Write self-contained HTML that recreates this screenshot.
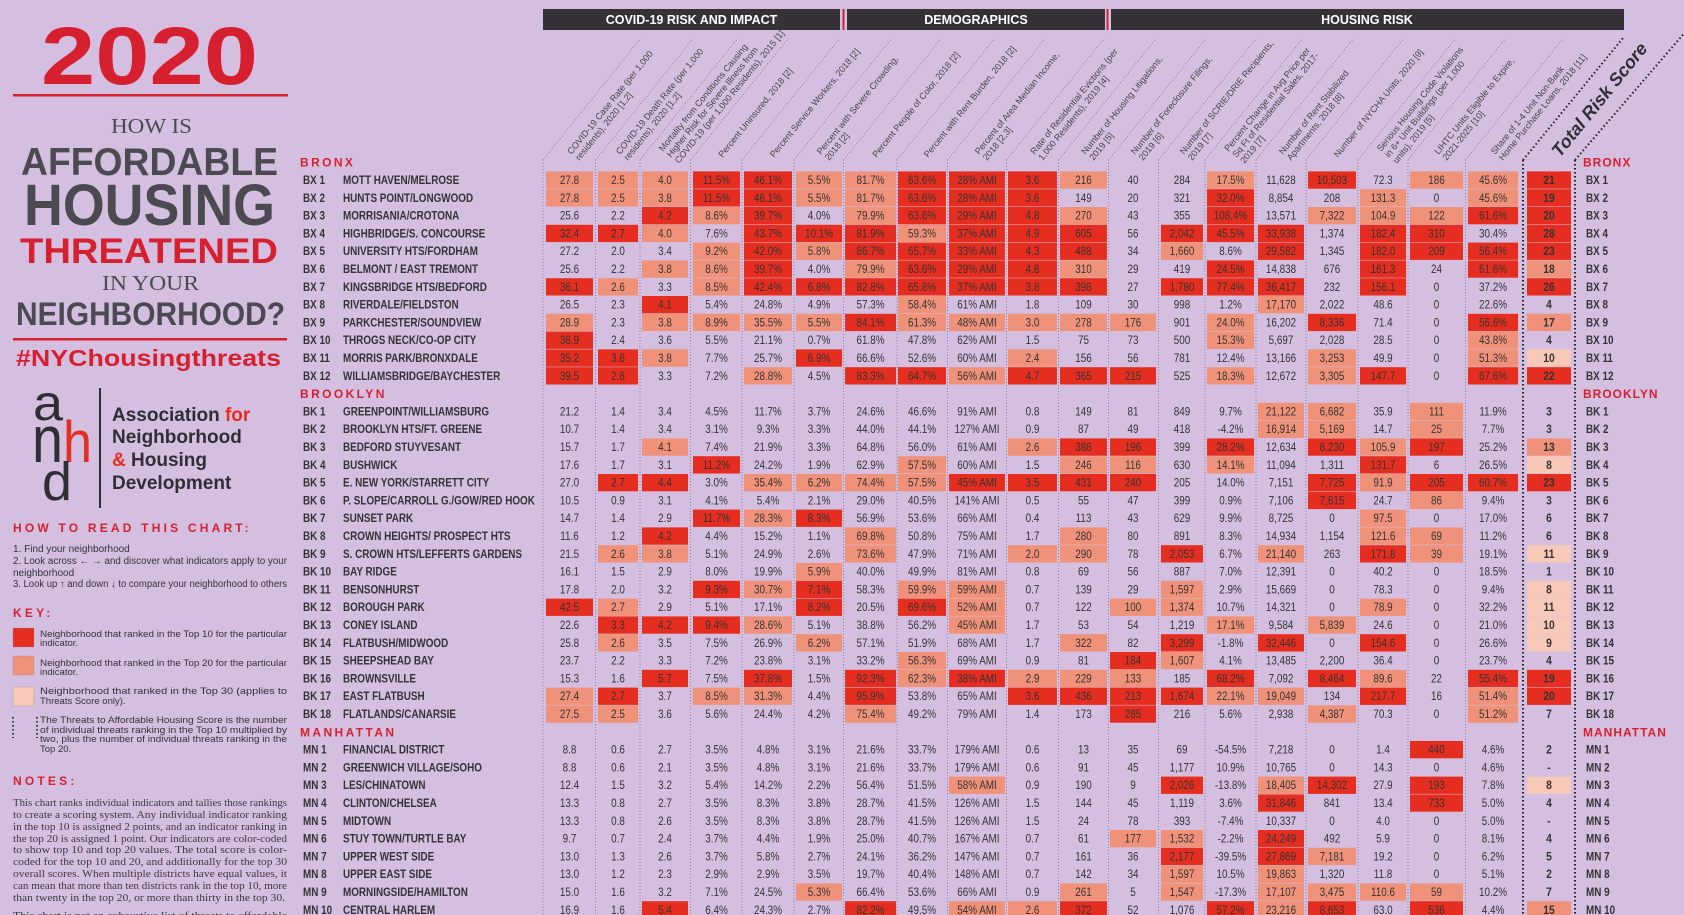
<!DOCTYPE html>
<html><head><meta charset="utf-8"><style>
html,body{margin:0;padding:0;background:#d5bfe0;}
#wrap{position:relative;width:1684px;height:915px;overflow:hidden;background:#d5bfe0;font-family:"Liberation Sans",sans-serif;}
svg{position:absolute;left:0;top:0;}
</style></head><body>
<div id="wrap">
<svg id="chart" width="1684" height="915" viewBox="0 0 1684 915">
<g id="left">
  <text x="41" y="84" font-size="82" font-weight="bold" fill="#d7202f" textLength="217" lengthAdjust="spacingAndGlyphs">2020</text>
  <rect x="13" y="94" width="275" height="2.5" fill="#d7202f"/>
  <text x="111" y="133" font-family="Liberation Serif,serif" font-size="21" fill="#4b4a50" textLength="81" lengthAdjust="spacingAndGlyphs">HOW IS</text>
  <text x="21" y="175" font-size="39" font-weight="bold" fill="#4b4a50" textLength="257" lengthAdjust="spacingAndGlyphs">AFFORDABLE</text>
  <text x="24" y="225" font-size="58" font-weight="bold" fill="#4b4a50" textLength="251" lengthAdjust="spacingAndGlyphs">HOUSING</text>
  <text x="20" y="263" font-size="35" font-weight="bold" fill="#d7202f" textLength="258" lengthAdjust="spacingAndGlyphs">THREATENED</text>
  <text x="102" y="290" font-family="Liberation Serif,serif" font-size="21" fill="#4b4a50" textLength="97" lengthAdjust="spacingAndGlyphs">IN YOUR</text>
  <text x="16" y="325" font-size="32" font-weight="bold" fill="#4b4a50" textLength="269" lengthAdjust="spacingAndGlyphs">NEIGHBORHOOD?</text>
  <rect x="13" y="338" width="274" height="2.5" fill="#d7202f"/>
  <text x="16" y="366" font-size="23" font-weight="bold" fill="#d7202f" textLength="265" lengthAdjust="spacingAndGlyphs">#NYChousingthreats</text>
  <g>
    <text x="33" y="420" font-size="50" fill="#2f2e33" textLength="30" lengthAdjust="spacingAndGlyphs">a</text>
    <text x="32" y="462" font-size="66" fill="#2f2e33" textLength="31" lengthAdjust="spacingAndGlyphs">n</text>
    <text x="63" y="462" font-size="58" fill="#e52e20" textLength="29" lengthAdjust="spacingAndGlyphs">h</text>
    <text x="42" y="500" font-size="54" fill="#2f2e33" textLength="30" lengthAdjust="spacingAndGlyphs">d</text>
    <rect x="99" y="388" width="2" height="120" fill="#2f2e33"/>
    <text x="112" y="421" font-size="19" font-weight="bold" fill="#2f2e33">Association <tspan fill="#e52e20">for</tspan></text>
    <text x="112" y="443" font-size="19" font-weight="bold" fill="#2f2e33">Neighborhood</text>
    <text x="112" y="466" font-size="19" font-weight="bold" fill="#2f2e33"><tspan fill="#e52e20">&amp;</tspan> Housing</text>
    <text x="112" y="489" font-size="19" font-weight="bold" fill="#2f2e33">Development</text>
  </g>
  <text x="13" y="532" font-size="12" font-weight="bold" fill="#d7202f" letter-spacing="3.2">HOW TO READ THIS CHART:</text>
  <g font-size="10" fill="#333">
    <text x="13" y="552">1. Find your neighborhood</text>
    <text x="13" y="564" textLength="274" lengthAdjust="spacingAndGlyphs">2. Look across ← → and discover what indicators apply to your</text>
    <text x="13" y="576">neighborhood</text>
    <text x="13" y="587" textLength="274" lengthAdjust="spacingAndGlyphs">3. Look up ↑ and down ↓ to compare your neighborhood to others</text>
  </g>
  <text x="13" y="617" font-size="12" font-weight="bold" fill="#d7202f" letter-spacing="3.2">KEY:</text>
  <g>
    <rect x="13" y="628" width="21" height="19" fill="#e52e20" stroke="#888" stroke-dasharray="1,1.5" stroke-width="0.8"/>
    <rect x="13" y="656" width="21" height="19" fill="#f0927a" stroke="#888" stroke-dasharray="1,1.5" stroke-width="0.8"/>
    <rect x="13" y="687" width="21" height="19" fill="#f8c9b8" stroke="#888" stroke-dasharray="1,1.5" stroke-width="0.8"/>
    <line x1="13" y1="717" x2="13" y2="738" stroke="#333" stroke-width="2" stroke-dasharray="1.5,2.5"/>
    <line x1="37" y1="717" x2="37" y2="738" stroke="#333" stroke-width="2" stroke-dasharray="1.5,2.5"/>
    <g font-size="9.5" fill="#333">
      <text x="40" y="637" textLength="247" lengthAdjust="spacingAndGlyphs">Neighborhood that ranked in the Top 10 for the particular</text>
      <text x="40" y="646">indicator.</text>
      <text x="40" y="666" textLength="247" lengthAdjust="spacingAndGlyphs">Neighborhood that ranked in the Top 20 for the particular</text>
      <text x="40" y="675">indicator.</text>
      <text x="40" y="694" textLength="247" lengthAdjust="spacingAndGlyphs">Neighborhood that ranked in the Top 30 (applies to</text>
      <text x="40" y="704">Threats Score only).</text>
      <text x="40" y="723" textLength="247" lengthAdjust="spacingAndGlyphs">The Threats to Affordable Housing Score is the number</text>
      <text x="40" y="733" textLength="247" lengthAdjust="spacingAndGlyphs">of individual threats ranking in the Top 10 multiplied by</text>
      <text x="40" y="742" textLength="247" lengthAdjust="spacingAndGlyphs">two, plus the number of individual threats ranking in the</text>
      <text x="40" y="752">Top 20.</text>
    </g>
  </g>
  <text x="13" y="785" font-size="12" font-weight="bold" fill="#d7202f" letter-spacing="3.2">NOTES:</text>
  <g font-family="Liberation Serif,serif" font-size="11" fill="#3a3a3a">
    <text x="13" y="806" textLength="274" lengthAdjust="spacingAndGlyphs">This chart ranks individual indicators and tallies those rankings</text>
    <text x="13" y="818" textLength="274" lengthAdjust="spacingAndGlyphs">to create a scoring system. Any individual indicator ranking</text>
    <text x="13" y="830" textLength="274" lengthAdjust="spacingAndGlyphs">in the top 10 is assigned 2 points, and an indicator ranking in</text>
    <text x="13" y="842" textLength="274" lengthAdjust="spacingAndGlyphs">the top 20 is assigned 1 point. Our indicators are color-coded</text>
    <text x="13" y="853" textLength="274" lengthAdjust="spacingAndGlyphs">to show top 10 and top 20 values. The total score is color-</text>
    <text x="13" y="865" textLength="274" lengthAdjust="spacingAndGlyphs">coded for the top 10 and 20, and additionally for the top 30</text>
    <text x="13" y="877" textLength="274" lengthAdjust="spacingAndGlyphs">overall scores. When multiple districts have equal values, it</text>
    <text x="13" y="889" textLength="274" lengthAdjust="spacingAndGlyphs">can mean that more than ten districts rank in the top 10, more</text>
    <text x="13" y="901" textLength="272" lengthAdjust="spacingAndGlyphs">than twenty in the top 20, or more than thirty in the top 30.</text>
    <text x="13" y="919" textLength="274" lengthAdjust="spacingAndGlyphs">This chart is not an exhaustive list of threats to affordable</text>
  </g>
</g>
<g id="hdr">
  <rect x="543" y="9" width="297" height="21" fill="#353137"/>
  <text x="691.5" y="24" text-anchor="middle" font-size="12.5" font-weight="bold" fill="#fff">COVID-19 RISK AND IMPACT</text>
  <rect x="842.5" y="9" width="2" height="21" fill="#d7202f"/>
  <rect x="847" y="9" width="258" height="21" fill="#353137"/>
  <text x="976" y="24" text-anchor="middle" font-size="12.5" font-weight="bold" fill="#fff">DEMOGRAPHICS</text>
  <rect x="1106.5" y="9" width="2" height="21" fill="#d7202f"/>
  <rect x="1111" y="9" width="513" height="21" fill="#353137"/>
  <text x="1367" y="24" text-anchor="middle" font-size="12.5" font-weight="bold" fill="#fff">HOUSING RISK</text>
</g>
<g id="grid"></g>
<g id="cells"></g>
</svg>
</div>
<script>
// ---- data ----
const sectionNames = ["BRONX","BROOKLYN","MANHATTAN"];
const bxCodes = ["BX 1","BX 2","BX 3","BX 4","BX 5","BX 6","BX 7","BX 8","BX 9","BX 10","BX 11","BX 12"];
const bxNames = ["MOTT HAVEN/MELROSE","HUNTS POINT/LONGWOOD","MORRISANIA/CROTONA","HIGHBRIDGE/S. CONCOURSE","UNIVERSITY HTS/FORDHAM","BELMONT / EAST TREMONT","KINGSBRIDGE HTS/BEDFORD","RIVERDALE/FIELDSTON","PARKCHESTER/SOUNDVIEW","THROGS NECK/CO-OP CITY","MORRIS PARK/BRONXDALE","WILLIAMSBRIDGE/BAYCHESTER"];
const bxValues = [
"27.8s|2.5s|4.0s|11.5%r|46.1%r|5.5%s|81.7%s|63.6%r|28% AMIr|3.6r|216s|40|284|17.5%s|11,628|10,503r|72.3|186s|45.6%s",
"27.8s|2.5s|3.8s|11.5%r|46.1%r|5.5%s|81.7%s|63.6%r|28% AMIr|3.6r|149|20|321|32.0%r|8,854|208|131.3s|0|45.6%s",
"25.6|2.2|4.2r|8.6%s|39.7%r|4.0%|79.9%s|63.6%r|29% AMIr|4.8r|270s|43|355|108.4%r|13,571|7,322s|104.9s|122s|61.6%r",
"32.4r|2.7r|4.0s|7.6%|43.7%r|10.1%r|81.9%r|59.3%s|37% AMIr|4.9r|605r|56|2,042r|45.5%r|33,938r|1,374|182.4r|310r|30.4%",
"27.2|2.0|3.4|9.2%s|42.0%r|5.8%s|86.7%r|65.7%r|33% AMIr|4.3r|488r|34|1,660s|8.6%|29,582r|1,345|182.0r|209r|56.4%r",
"25.6|2.2|3.8s|8.6%s|39.7%r|4.0%|79.9%s|63.6%r|29% AMIr|4.8r|310s|29|419|24.5%r|14,838|676|161.3r|24|61.6%r",
"36.1r|2.6s|3.3|8.5%s|42.4%r|6.8%r|82.8%r|65.8%r|37% AMIr|3.8r|398r|27|1,780r|77.4%r|36,417r|232|156.1r|0|37.2%",
"26.5|2.3|4.1r|5.4%|24.8%|4.9%|57.3%|58.4%s|61% AMI|1.8|109|30|998|1.2%|17,170s|2,022|48.6|0|22.6%",
"28.9s|2.3|3.8s|8.9%s|35.5%s|5.5%s|84.1%r|61.3%s|48% AMIs|3.0s|278s|176s|901|24.0%s|16,202|8,336r|71.4|0|56.6%r",
"36.9r|2.4|3.6|5.5%|21.1%|0.7%|61.8%|47.8%|62% AMI|1.5|75|73|500|15.3%s|5,697|2,028|28.5|0|43.8%s",
"35.2r|3.6r|3.8s|7.7%|25.7%|6.9%r|66.6%|52.6%|60% AMI|2.4s|156|56|781|12.4%|13,166|3,253s|49.9|0|51.3%s",
"39.5r|2.8r|3.3|7.2%|28.8%s|4.5%|83.3%r|64.7%r|56% AMIs|4.7r|365r|215r|525|18.3%s|12,672|3,305s|147.7r|0|67.6%r"];
const bxScores = ["21r","19r","20r","28r","23r","18s","26r","4","17s","4","10p","22r"];
const bkCodes = ["BK 1","BK 2","BK 3","BK 4","BK 5","BK 6","BK 7","BK 8","BK 9","BK 10","BK 11","BK 12","BK 13","BK 14","BK 15","BK 16","BK 17","BK 18"];
const bkNames = ["GREENPOINT/WILLIAMSBURG","BROOKLYN HTS/FT. GREENE","BEDFORD STUYVESANT","BUSHWICK","E. NEW YORK/STARRETT CITY","P. SLOPE/CARROLL G./GOW/RED HOOK","SUNSET PARK","CROWN HEIGHTS/ PROSPECT HTS","S. CROWN HTS/LEFFERTS GARDENS","BAY RIDGE","BENSONHURST","BOROUGH PARK","CONEY ISLAND","FLATBUSH/MIDWOOD","SHEEPSHEAD BAY","BROWNSVILLE","EAST FLATBUSH","FLATLANDS/CANARSIE"];
const bkValues = [
"21.2|1.4|3.4|4.5%|11.7%|3.7%|24.6%|46.6%|91% AMI|0.8|149|81|849|9.7%|21,122s|6,682s|35.9|111s|11.9%",
"10.7|1.4|3.4|3.1%|9.3%|3.3%|44.0%|44.1%|127% AMI|0.9|87|49|418|-4.2%|16,914s|5,169s|14.7|25s|7.7%",
"15.7|1.7|4.1s|7.4%|21.9%|3.3%|64.8%|56.0%|61% AMI|2.6s|388r|196r|399|28.2%r|12,634|8,230r|105.9s|197r|25.2%",
"17.6|1.7|3.1|11.2%r|24.2%|1.9%|62.9%|57.5%s|60% AMI|1.5|246s|116s|630|14.1%s|11,094|1,311|131.7r|6|26.5%",
"27.0|2.7r|4.4r|3.0%|35.4%s|6.2%s|74.4%s|57.5%s|45% AMIr|3.5r|431r|240r|205|14.0%|7,151|7,725r|91.9s|205r|60.7%r",
"10.5|0.9|3.1|4.1%|5.4%|2.1%|29.0%|40.5%|141% AMI|0.5|55|47|399|0.9%|7,106|7,615r|24.7|86s|9.4%",
"14.7|1.4|2.9|11.7%r|28.3%s|8.3%r|56.9%|53.6%|66% AMI|0.4|113|43|629|9.9%|8,725|0|97.5s|0|17.0%",
"11.6|1.2|4.2r|4.4%|15.2%|1.1%|69.8%s|50.8%|75% AMI|1.7|280s|80|891|8.3%|14,934|1,154|121.6s|69s|11.2%",
"21.5|2.6s|3.8s|5.1%|24.9%|2.6%|73.6%s|47.9%|71% AMI|2.0s|290s|78|2,053r|6.7%|21,140s|263|171.8r|39s|19.1%",
"16.1|1.5|2.9|8.0%|19.9%|5.9%s|40.0%|49.9%|81% AMI|0.8|69|56|887|7.0%|12,391|0|40.2|0|18.5%",
"17.8|2.0|3.2|9.3%r|30.7%s|7.1%r|58.3%|59.9%s|59% AMIs|0.7|139|29|1,597s|2.9%|15,669|0|78.3|0|9.4%",
"42.5r|2.7s|2.9|5.1%|17.1%|8.2%r|20.5%|69.6%r|52% AMIs|0.7|122|100s|1,374s|10.7%|14,321|0|78.9s|0|32.2%",
"22.6|3.3r|4.2r|9.4%r|28.6%s|5.1%|38.8%|56.2%|45% AMIs|1.7|53|54|1,219|17.1%s|9,584|5,839s|24.6|0|21.0%",
"25.8|2.6s|3.5|7.5%|26.9%|6.2%s|57.1%|51.9%|68% AMI|1.7|322s|82|3,299r|-1.8%|32,446r|0|154.6r|0|26.6%",
"23.7|2.2|3.3|7.2%|23.8%|3.1%|33.2%|56.3%s|69% AMI|0.9|81|184r|1,607s|4.1%|13,485|2,200|36.4|0|23.7%",
"15.3|1.6|5.7r|7.5%|37.8%r|1.5%|92.3%r|62.3%s|38% AMIr|2.9s|229s|133s|185|68.2%r|7,092|8,464r|89.6s|22|55.4%r",
"27.4s|2.7r|3.7|8.5%s|31.3%s|4.4%|95.9%r|53.8%|65% AMI|3.6r|436r|213r|1,674r|22.1%s|19,049s|134|217.7r|16|51.4%s",
"27.5s|2.5s|3.6|5.6%|24.4%|4.2%|75.4%s|49.2%|79% AMI|1.4|173|285r|216|5.6%|2,938|4,387s|70.3|0|51.2%s"];
const bkScores = ["3","3","13s","8p","23r","3","6","6","11p","1","8p","11p","10p","9p","4","19r","20r","7"];
const mnCodes = ["MN 1","MN 2","MN 3","MN 4","MN 5","MN 6","MN 7","MN 8","MN 9","MN 10"];
const mnNames = ["FINANCIAL DISTRICT","GREENWICH VILLAGE/SOHO","LES/CHINATOWN","CLINTON/CHELSEA","MIDTOWN","STUY TOWN/TURTLE BAY","UPPER WEST SIDE","UPPER EAST SIDE","MORNINGSIDE/HAMILTON","CENTRAL HARLEM"];
const mnValues = [
"8.8|0.6|2.7|3.5%|4.8%|3.1%|21.6%|33.7%|179% AMI|0.6|13|35|69|-54.5%|7,218|0|1.4|440r|4.6%",
"8.8|0.6|2.1|3.5%|4.8%|3.1%|21.6%|33.7%|179% AMI|0.6|91|45|1,177|10.9%|10,765|0|14.3|0|4.6%",
"12.4|1.5|3.2|5.4%|14.2%|2.2%|56.4%|51.5%|58% AMIs|0.9|190|9|2,026r|-13.8%|18,405s|14,302r|27.9|193r|7.8%",
"13.3|0.8|2.7|3.5%|8.3%|3.8%|28.7%|41.5%|126% AMI|1.5|144|45|1,119|3.6%|31,846r|841|13.4|733r|5.0%",
"13.3|0.8|2.6|3.5%|8.3%|3.8%|28.7%|41.5%|126% AMI|1.5|24|78|393|-7.4%|10,337|0|4.0|0|5.0%",
"9.7|0.7|2.4|3.7%|4.4%|1.9%|25.0%|40.7%|167% AMI|0.7|61|177s|1,532s|-2.2%|24,249r|492|5.9|0|8.1%",
"13.0|1.3|2.6|3.7%|5.8%|2.7%|24.1%|36.2%|147% AMI|0.7|161|36|2,177r|-39.5%|27,869r|7,181s|19.2|0|6.2%",
"13.0|1.2|2.3|2.9%|2.9%|3.5%|19.7%|40.4%|148% AMI|0.7|142|34|1,597s|10.5%|19,863s|1,320|11.8|0|5.1%",
"15.0|1.6|3.2|7.1%|24.5%|5.3%s|66.4%|53.6%|66% AMI|0.9|261s|5|1,547s|-17.3%|17,107s|3,475s|110.6s|59s|10.2%",
"16.9|1.6|5.4r|6.4%|24.3%|2.7%|82.2%r|49.5%|54% AMIs|2.6s|372r|52|1,076|57.2%r|23,216s|8,653r|63.0|536r|4.4%"];
const mnScores = ["2","-","8p","4","-","4","5","2","7","15s"];
const headerLines = [
["COVID-19 Case Rate (per 1,000","residents), 2020 [1,2]"],
["COVID-19 Death Rate (per 1,000","residents), 2020 [1,2]"],
["Mortality from Conditions Causing","Higher Risk for Severe Illness from","COVID-19 (per 1,000 Residents), 2015 [1]"],
["Percent Uninsured, 2018 [2]"],
["Percent Service Workers, 2018 [2]"],
["Percent with Severe Crowding,","2018 [2]"],
["Percent People of Color, 2018 [2]"],
["Percent with Rent Burden, 2018 [2]"],
["Percent of Area Median Income,","2018 [2,3]"],
["Rate of Residential Evictions (per","1,000 Residents), 2019 [4]"],
["Number of Housing Litigations,","2019 [5]"],
["Number of Foreclosure Filings,","2019 [6]"],
["Number of SCRIE/DRIE Recipients,","2019 [7]"],
["Percent Change in Avg Price per","Sq Ft of Residential Sales, 2017-","2019 [7]"],
["Number of Rent Stabilized","Apartments, 2018 [8]"],
["Number of NYCHA Units, 2020 [9]"],
["Serious Housing Code Violations","in 6+ Unit Buildings (per 1,000","units), 2019 [5]"],
["LIHTC Units Eligible to Expire,","2021-2025 [10]"],
["Share of 1-4 Unit Non-Bank","Home Purchase Loans, 2018 [11]"]];

// ---- layout ----
const NS = "http://www.w3.org/2000/svg";
const colEdges = [[546,593],[598,638],[642,688],[693,740],[744,792],[796,842],[845,896],[898,946],[949,1005],[1008,1057],[1060,1107],[1110,1156],[1161,1203],[1207,1254],[1258,1304],[1308,1356],[1360,1406],[1410,1463],[1468,1518]];
const scoreEdge = [1527,1571];
const fills = {r:"#e52e20", s:"#f0927a", p:"#f8c9b8"};
const rowY = r => 180 + r*17.8;
const grid = document.getElementById("grid");
const cells = document.getElementById("cells");
function mk(tag, attrs, parent){ const e=document.createElementNS(NS,tag); for(const k in attrs) e.setAttribute(k,attrs[k]); parent.appendChild(e); return e; }
function parseVal(s){ const f=s.slice(-1); if(f==="r"||f==="s"||f==="p") return [s.slice(0,-1), f]; return [s, ""]; }

const divX = [543];
for(let i=0;i<colEdges.length-1;i++) divX.push((colEdges[i][1]+colEdges[i+1][0])/2);
divX.forEach(x=>{
  const l=mk("line",{x1:x,y1:160,x2:x,y2:915,stroke:"#7a6f80","stroke-width":0.8,"stroke-dasharray":"1,2"},grid);
  
  
  mk("line",{x1:x,y1:160,x2:x+98,y2:38,stroke:"#7a6f80","stroke-width":0.8,"stroke-dasharray":"1,2"},grid);
});
[1523,1575].forEach((x,i)=>{
  const l=mk("line",{x1:x,y1:160,x2:x,y2:915,stroke:"#222","stroke-width":2,"stroke-dasharray":"1.5,2.5"},grid);
  
  
  mk("line",{x1:x,y1:160,x2:x+(i?112:100),y2:i?30:38,stroke:"#222","stroke-width":2,"stroke-dasharray":"1.5,2.5"},grid);
});

headerLines.forEach((lines,ci)=>{
  const c=(colEdges[ci][0]+colEdges[ci][1])/2;
  const n=lines.length;
  lines.forEach((t,k)=>{
    const o=k-(n-1)/2;
    const x=c+6+o*8, y=158+o*6;
    const tx=mk("text",{x:0,y:0,transform:`translate(${x},${y}) rotate(-51)`,"font-size":9,fill:"#444"},grid);
    tx.textContent=t;
    
    
  });
});
const trs=mk("text",{x:0,y:0,transform:"translate(1560,158) rotate(-51)","font-size":18,"font-weight":"bold","font-style":"italic",fill:"#2f2e33"},grid);
trs.textContent="Total Risk Score";



function addText(x,y,str,opts,parent,name){
  const t=mk("text",Object.assign({x:0,y:0,transform:`translate(${x},${y}) scale(0.86,1)`},opts),parent);
  t.textContent=str;
  
  
  return t;
}

const sections=[[bxCodes,bxNames,bxValues,bxScores],[bkCodes,bkNames,bkValues,bkScores],[mnCodes,mnNames,mnValues,mnScores]];
let r=-1;
sections.forEach((sec,si)=>{
  const hy=rowY(r);
  const h1=mk("text",{x:300,y:hy+4.5,"font-size":12,"font-weight":"bold",fill:"#d7202f","letter-spacing":2.4},cells);
  h1.textContent=sectionNames[si];
  
  
  const h2=mk("text",{x:1583,y:hy+4.5,"font-size":12,"font-weight":"bold",fill:"#d7202f","letter-spacing":1},cells);
  h2.textContent=sectionNames[si];
  
  
  r++;
  const [codes,names,vals,scores]=sec;
  codes.forEach((code,i)=>{
    const cy=rowY(r);
    const g=mk("g",{},cells);
    
    
    addText(303,cy+4,code,{"font-size":11.5,"font-weight":"bold",fill:"#333"},g,'district-code');
    addText(343,cy+4,names[i],{"font-size":11.5,"font-weight":"bold",fill:"#333"},g,'district-name');
    vals[i].split("|").forEach((s,ci)=>{
      const [v,f]=parseVal(s);
      const [x0,x1]=colEdges[ci];
      if(f){
        const rc=mk("rect",{x:x0,y:cy-8.6,width:x1-x0,height:17.3,fill:fills[f]},g);
        
        
      }
      addText((x0+x1)/2,cy+4,v,{"font-size":11.5,fill:"#333","text-anchor":"middle"},g,'value-cell');
    });
    const [sv,sf]=parseVal(scores[i]);
    if(sf){
      const rc=mk("rect",{x:scoreEdge[0],y:cy-8.6,width:scoreEdge[1]-scoreEdge[0],height:17.3,fill:fills[sf]},g);
      
      
    }
    addText((scoreEdge[0]+scoreEdge[1])/2,cy+4,sv,{"font-size":12,"font-weight":"bold",fill:"#333","text-anchor":"middle"},g,'risk-score');
    addText(1586,cy+4,code,{"font-size":11.5,"font-weight":"bold",fill:"#333"},g,'district-code-right');
    r++;
  });
});
</script>
</body></html>
